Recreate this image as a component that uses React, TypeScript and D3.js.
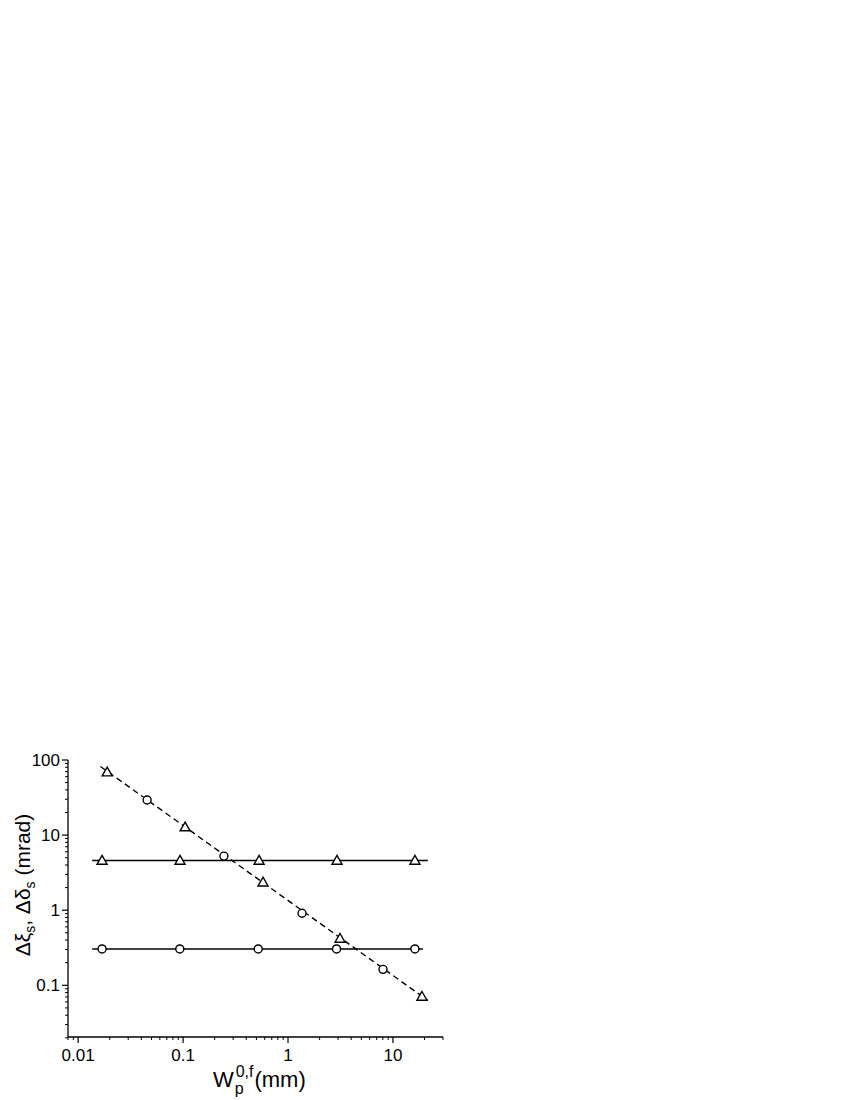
import React from 'react';
import * as d3 from 'd3';

// flat lines (solid), x in mm, y in mrad
const triFlatX = [0.0169, 0.0935, 0.53, 2.93, 16.2];
const triFlatY = [4.6, 4.6, 4.6, 4.6, 4.6];
const triFlatLine = [[0.0136, 4.6], [21.5, 4.6]];

const circFlatX = [0.0169, 0.093, 0.52, 2.9, 16.2];
const circFlatY = [0.305, 0.305, 0.305, 0.305, 0.305];
const circFlatLine = [[0.0136, 0.305], [19.3, 0.305]];

// dashed decreasing line with alternating markers
const dashLine = [[0.0163, 82], [21.5, 0.063]];
const dashTriX = [0.0189, 0.1045, 0.578, 3.13, 18.9];
const dashTriY = [69, 12.8, 2.36, 0.42, 0.071];
const dashCircX = [0.0454, 0.245, 1.36, 8.04];
const dashCircY = [29.3, 5.25, 0.91, 0.163];

const xTicks = [0.01, 0.1, 1, 10];
const yTicks = [0.1, 1, 10, 100];

const font = '"Liberation Sans", Arial, sans-serif';

export default function App() {
  const x = d3.scaleLog().domain([0.008, 30]).range([68, 443]);
  const y = d3.scaleLog().domain([0.0205, 100]).range([1037, 760]);

  const line = d3.line<number[]>().x(d => x(d[0])).y(d => y(d[1]));

  const xMinor: number[] = [];
  for (const dec of [0.001, 0.01, 0.1, 1, 10]) {
    for (let k = 2; k <= 9; k++) {
      const v = dec * k;
      if (v >= 0.008 && v <= 30.01) xMinor.push(v);
    }
  }
  const yMinor: number[] = [];
  for (const dec of [0.01, 0.1, 1, 10]) {
    for (let k = 2; k <= 9; k++) {
      const v = dec * k;
      if (v >= 0.02 && v <= 100) yMinor.push(v);
    }
  }

  const tri = (cx: number, cy: number, key: string) => {
    const s = 5;
    const p = `M${cx},${cy - s} L${cx + s},${cy + s * 0.75} L${cx - s},${cy + s * 0.75} Z`;
    return <path key={key} d={p} fill="white" stroke="black" strokeWidth={1.4} />;
  };
  const circ = (cx: number, cy: number, key: string) => (
    <circle key={key} cx={cx} cy={cy} r={4} fill="white" stroke="black" strokeWidth={1.4} />
  );

  const y0 = 1037;
  const x0 = 68;

  return (
    <svg width={850} height={1100} style={{ position: 'absolute', left: 0, top: 0 }} fontFamily={font}>
      <rect width={850} height={1100} fill="white" />
      {/* axes */}
      <line x1={x0} x2={443} y1={y0} y2={y0} stroke="black" strokeWidth={1.3} />
      <line x1={x0} x2={x0} y1={760} y2={y0} stroke="black" strokeWidth={1.3} />
      {xTicks.map(t => (
        <g key={'xt' + t}>
          <line x1={x(t)} x2={x(t)} y1={y0} y2={y0 + 6} stroke="black" strokeWidth={1.2} />
          <text x={x(t)} y={y0 + 24} fontSize={17} textAnchor="middle">{String(t)}</text>
        </g>
      ))}
      {xMinor.map(t => (
        <line key={'xm' + t} x1={x(t)} x2={x(t)} y1={y0} y2={y0 + 3} stroke="black" strokeWidth={1} />
      ))}
      {yTicks.map(t => (
        <g key={'yt' + t}>
          <line x1={x0} x2={x0 - 6} y1={y(t)} y2={y(t)} stroke="black" strokeWidth={1.2} />
          <text x={x0 - 8} y={y(t) + 6} fontSize={17} textAnchor="end">{String(t)}</text>
        </g>
      ))}
      {yMinor.map(t => (
        <line key={'ym' + t} x1={x0} x2={x0 - 3} y1={y(t)} y2={y(t)} stroke="black" strokeWidth={1} />
      ))}

      {/* lines */}
      <path d={line(triFlatLine) || ''} fill="none" stroke="black" strokeWidth={1.4} />
      <path d={line(circFlatLine) || ''} fill="none" stroke="black" strokeWidth={1.4} />
      <path d={line(dashLine) || ''} fill="none" stroke="black" strokeWidth={1.4} strokeDasharray="6,4" />

      {/* markers */}
      {triFlatX.map((v, i) => tri(x(v), y(triFlatY[i]), 'tf' + i))}
      {circFlatX.map((v, i) => circ(x(v), y(circFlatY[i]), 'cf' + i))}
      {dashTriX.map((v, i) => tri(x(v), y(dashTriY[i]), 'dt' + i))}
      {dashCircX.map((v, i) => circ(x(v), y(dashCircY[i]), 'dc' + i))}

      {/* axis titles */}
      <text x={213} y={1087} fontSize={22}>
        W<tspan fontSize={16} dx={1} dy={7}>p</tspan>
        <tspan fontSize={16} dx={-8} dy={-17}>0,f</tspan>
        <tspan dx={1} dy={10}>(mm)</tspan>
      </text>
      <text transform="translate(30,885) rotate(-90)" fontSize={21} textAnchor="middle">
        Δξ<tspan fontSize={14} dy={5}>s</tspan>
        <tspan dy={-5}>, Δδ</tspan>
        <tspan fontSize={14} dy={5}>s</tspan>
        <tspan dy={-5}>{'  (mrad)'}</tspan>
      </text>
    </svg>
  );
}
